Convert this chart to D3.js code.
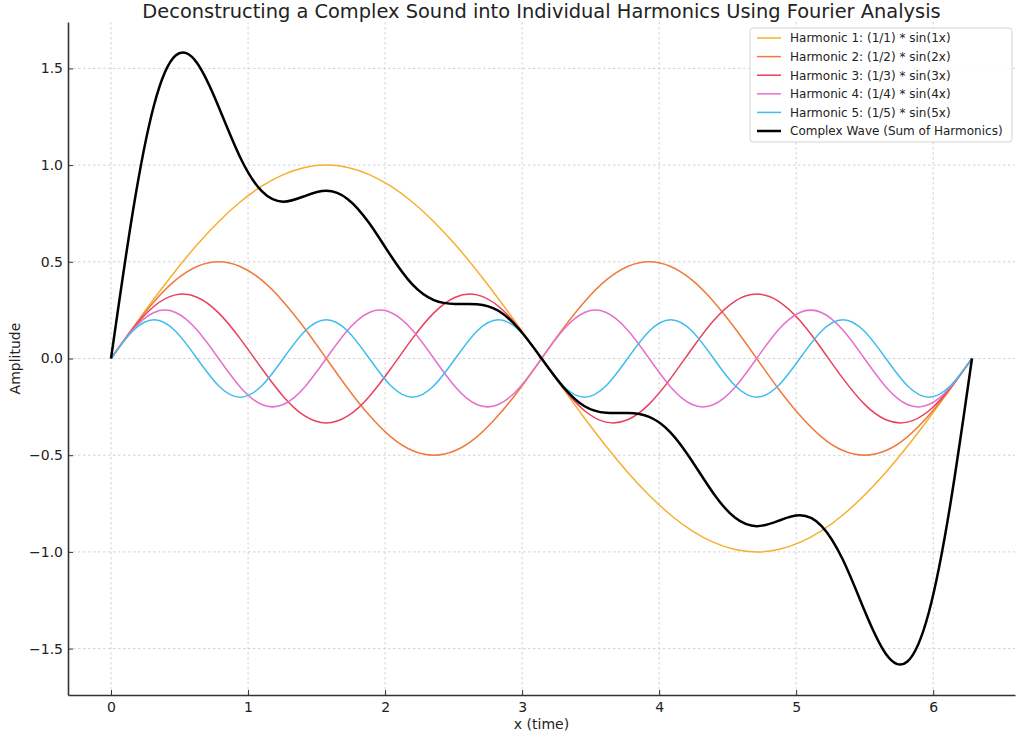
<!DOCTYPE html>
<meta charset="utf-8">
<style>
    body { margin: 0; background: #fff; }
    svg { font-family: "DejaVu Sans", sans-serif; }
</style>
<svg width="1024" height="740"></svg>
<script src="https://d3js.org/d3.v7.min.js"></script>
<script>
    // sample positions (x = time)
    var xs = [0, 0.157, 0.314, 0.471, 0.628, 0.785, 0.942, 1.100, 1.257, 1.414,
        1.571, 1.728, 1.885, 2.042, 2.199, 2.356, 2.513, 2.670, 2.827, 2.985,
        3.142, 3.299, 3.456, 3.613, 3.770, 3.927, 4.084, 4.241, 4.398, 4.555,
        4.712, 4.869, 5.027, 5.184, 5.341, 5.498, 5.655, 5.812, 5.969, 6.126, 6.283];

    var harmonic1 = [0, 0.156, 0.309, 0.454, 0.588, 0.707, 0.809, 0.891, 0.951, 0.988,
        1, 0.988, 0.951, 0.891, 0.809, 0.707, 0.588, 0.454, 0.309, 0.156,
        0, -0.156, -0.309, -0.454, -0.588, -0.707, -0.809, -0.891, -0.951, -0.988,
        -1, -0.988, -0.951, -0.891, -0.809, -0.707, -0.588, -0.454, -0.309, -0.156, 0];
    var harmonic2 = [0, 0.155, 0.294, 0.405, 0.476, 0.5, 0.476, 0.405, 0.294, 0.155,
        0, -0.155, -0.294, -0.405, -0.476, -0.5, -0.476, -0.405, -0.294, -0.155,
        0, 0.155, 0.294, 0.405, 0.476, 0.5, 0.476, 0.405, 0.294, 0.155,
        0, -0.155, -0.294, -0.405, -0.476, -0.5, -0.476, -0.405, -0.294, -0.155, 0];
    var harmonic3 = [0, 0.151, 0.270, 0.329, 0.317, 0.236, 0.103, -0.052, -0.196, -0.297,
        -0.333, -0.297, -0.196, -0.052, 0.103, 0.236, 0.317, 0.329, 0.270, 0.151,
        0, -0.151, -0.270, -0.329, -0.317, -0.236, -0.103, 0.052, 0.196, 0.297,
        0.333, 0.297, 0.196, 0.052, -0.103, -0.236, -0.317, -0.329, -0.270, -0.151, 0];
    var harmonic4 = [0, 0.147, 0.238, 0.238, 0.147, 0, -0.147, -0.238, -0.238, -0.147,
        0, 0.147, 0.238, 0.238, 0.147, 0, -0.147, -0.238, -0.238, -0.147,
        0, 0.147, 0.238, 0.238, 0.147, 0, -0.147, -0.238, -0.238, -0.147,
        0, 0.147, 0.238, 0.238, 0.147, 0, -0.147, -0.238, -0.238, -0.147, 0];
    var harmonic5 = [0, 0.141, 0.2, 0.141, 0, -0.141, -0.2, -0.141,
        0, 0.141, 0.2, 0.141, 0, -0.141, -0.2, -0.141,
        0, 0.141, 0.2, 0.141, 0, -0.141, -0.2, -0.141,
        0, 0.141, 0.2, 0.141, 0, -0.141, -0.2, -0.141,
        0, 0.141, 0.2, 0.141, 0, -0.141, -0.2, -0.141, 0];
    var complexWave = [0, 0.750, 1.311, 1.567, 1.528, 1.302, 1.041, 0.865, 0.811, 0.840,
        0.867, 0.824, 0.699, 0.531, 0.383, 0.302, 0.282, 0.281, 0.247, 0.146,
        0, -0.146, -0.247, -0.281, -0.282, -0.302, -0.383, -0.531, -0.699, -0.824,
        -0.867, -0.840, -0.811, -0.865, -1.041, -1.302, -1.528, -1.567, -1.311, -0.750, 0];

    var seriesNames = [
        "Harmonic 1: (1/1) * sin(1x)",
        "Harmonic 2: (1/2) * sin(2x)",
        "Harmonic 3: (1/3) * sin(3x)",
        "Harmonic 4: (1/4) * sin(4x)",
        "Harmonic 5: (1/5) * sin(5x)",
        "Complex Wave (Sum of Harmonics)"
    ];
    var seriesValues = [harmonic1, harmonic2, harmonic3, harmonic4, harmonic5, complexWave];
    var seriesColors = ["#f5b02e", "#ef7a3c", "#e8415d", "#e56fcd", "#3fbdec", "#000000"];

    var xTicks = [0, 1, 2, 3, 4, 5, 6];
    var yTicks = [-1.5, -1.0, -0.5, 0.0, 0.5, 1.0, 1.5];
</script>

<script>
    var svg = d3.select("svg");
    var margin = {left: 68, right: 9, top: 22, bottom: 45};
    var width = 1024 - margin.left - margin.right;
    var height = 740 - margin.top - margin.bottom;

    var x = d3.scaleLinear().domain([-0.314, 6.597]).range([0, width]);
    var y = d3.scaleLinear().domain([-1.74, 1.74]).range([height, 0]);

    var g = svg.append("g").attr("transform", "translate(" + margin.left + "," + margin.top + ")");

    // grid
    g.append("g").selectAll("line").data(xTicks).enter().append("line")
        .attr("x1", function (d) { return x(d); }).attr("x2", function (d) { return x(d); })
        .attr("y1", 0).attr("y2", height)
        .attr("stroke", "#c8c8c8").attr("stroke-width", 0.8).attr("stroke-dasharray", "2.5,2.5");
    g.append("g").selectAll("line").data(yTicks).enter().append("line")
        .attr("y1", function (d) { return y(d); }).attr("y2", function (d) { return y(d); })
        .attr("x1", 0).attr("x2", width)
        .attr("stroke", "#c8c8c8").attr("stroke-width", 0.8).attr("stroke-dasharray", "2.5,2.5");

    // lines
    var line = d3.line()
        .x(function (d, i) { return x(xs[i]); })
        .y(function (d) { return y(d); })
        .curve(d3.curveNatural);

    g.append("g").selectAll("path").data(seriesValues).enter().append("path")
        .attr("d", line)
        .attr("fill", "none")
        .attr("stroke", function (d, i) { return seriesColors[i]; })
        .attr("stroke-width", function (d, i) { return i === 5 ? 2.5 : 1.5; })
        .attr("stroke-linejoin", "round");

    // axes: inward ticks, only left and bottom spines
    var xAxis = d3.axisBottom(x).tickValues(xTicks).tickFormat(d3.format("d"))
        .tickSizeInner(-5).tickSizeOuter(0).tickPadding(7);
    var yAxis = d3.axisLeft(y).tickValues(yTicks)
        .tickFormat(function (d) { return d3.format(".1f")(d).replace("-", "\u2212"); })
        .tickSizeInner(-5).tickSizeOuter(0).tickPadding(5);

    var gx = g.append("g").attr("transform", "translate(0," + height + ")").call(xAxis);
    var gy = g.append("g").call(yAxis);
    [gx, gy].forEach(function (a) {
        a.select(".domain").attr("stroke", "#333").attr("stroke-width", 1.6);
        a.selectAll(".tick line").attr("stroke", "#333").attr("stroke-width", 1);
        a.selectAll(".tick text").attr("font-size", 14).attr("fill", "#222")
            .attr("font-family", "DejaVu Sans");
    });

    // labels
    svg.append("text").attr("x", margin.left + width / 2).attr("y", 18)
        .attr("text-anchor", "middle").attr("font-size", 19.4).attr("fill", "#222")
        .text("Deconstructing a Complex Sound into Individual Harmonics Using Fourier Analysis");
    svg.append("text").attr("x", margin.left + width / 2).attr("y", 729)
        .attr("text-anchor", "middle").attr("font-size", 14).attr("fill", "#222")
        .text("x (time)");
    svg.append("text").attr("transform", "translate(20," + (margin.top + height / 2) + ") rotate(-90)")
        .attr("text-anchor", "middle").attr("font-size", 14).attr("fill", "#222")
        .text("Amplitude");

    // legend
    var legend = svg.append("g").attr("transform", "translate(750,28)");
    legend.append("rect").attr("width", 262).attr("height", 114).attr("rx", 3)
        .attr("fill", "#fff").attr("fill-opacity", 0.85)
        .attr("stroke", "#d4d4d4").attr("stroke-width", 1);
    var item = legend.selectAll("g.item").data(seriesNames).enter().append("g")
        .attr("class", "item")
        .attr("transform", function (d, i) { return "translate(0," + (10 + i * 18.6) + ")"; });
    item.append("line").attr("x1", 7).attr("x2", 31).attr("y1", 0).attr("y2", 0)
        .attr("stroke", function (d, i) { return seriesColors[i]; })
        .attr("stroke-width", function (d, i) { return i === 5 ? 2.5 : 1.5; });
    item.append("text").attr("x", 40).attr("y", 4.3)
        .attr("font-size", 12).attr("fill", "#222")
        .text(function (d) { return d; });
</script>
